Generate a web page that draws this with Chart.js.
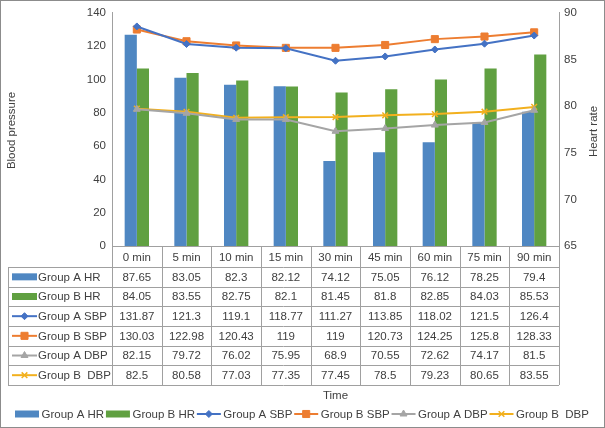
<!DOCTYPE html>
<html>
<head>
<meta charset="utf-8">
<script src="https://cdn.jsdelivr.net/npm/chart.js@4/dist/chart.umd.min.js"></script>
<style>
  body { margin: 0; background: #fff; }
  #wrap { width: 605px; height: 428px; }
</style>
</head>
<body>
<div id="wrap"><canvas id="chart" width="605" height="428"></canvas></div>
<script>
// Data
const categorias = ['0 min', '5 min', '10 min', '15 min', '30 min', '45 min', '60 min', '75 min', '90 min'];
const groupAHR = [87.65, 83.05, 82.3, 82.12, 74.12, 75.05, 76.12, 78.25, 79.4];
const groupBHR = [84.05, 83.55, 82.75, 82.1, 81.45, 81.8, 82.85, 84.03, 85.53];
const groupASBP = [131.87, 121.3, 119.1, 118.77, 111.27, 113.85, 118.02, 121.5, 126.4];
const groupBSBP = [130.03, 122.98, 120.43, 119, 119, 120.73, 124.25, 125.8, 128.33];
const groupADBP = [82.15, 79.72, 76.02, 75.95, 68.9, 70.55, 72.62, 74.17, 81.5];
const groupBDBP = [82.5, 80.58, 77.03, 77.35, 77.45, 78.5, 79.23, 80.65, 83.55];

// Styles
const FONT = '"Liberation Sans", Arial, sans-serif';
const TEXT_COLOR = '#404040';
const LINE_GRAY = '#a0a0a0';
const HEADER_H = 21;
const ROW_H = 19.67;

// Draws a legend key (bar swatch or line + marker)
function drawKey(ctx, ds, x0, y, w) {
    if (ds.type === 'bar') {
        ctx.fillStyle = ds.backgroundColor;
        ctx.fillRect(x0, y - 3.5, w, 7);
        return;
    }
    ctx.strokeStyle = ds.borderColor;
    ctx.lineWidth = 2;
    ctx.beginPath();
    ctx.moveTo(x0, y);
    ctx.lineTo(x0 + w, y);
    ctx.stroke();
    ctx.fillStyle = ds.pointBackgroundColor;
    ctx.strokeStyle = ds.pointBorderColor;
    ctx.lineWidth = ds.pointStyle === 'crossRot' ? 1.5 : 1;
    Chart.helpers.drawPoint(ctx, {
        pointStyle: ds.pointStyle,
        radius: ds.pointRadius,
        rotation: 0,
        borderWidth: ctx.lineWidth
    }, x0 + w / 2, y);
}

// Data table, axis titles, legend and frame
const tabelaPlugin = {
    id: 'tabela',
    afterDraw(chart) {
        const ctx = chart.ctx;
        const area = chart.chartArea;
        const xScale = chart.scales.x;
        const datasets = chart.data.datasets;
        const n = categorias.length;
        const step = (area.right - area.left) / n;
        const top = area.bottom;
        const tableLeft = 8;
        const tableBottom = top + HEADER_H + ROW_H * datasets.length;

        ctx.save();

        // table lines
        ctx.strokeStyle = LINE_GRAY;
        ctx.lineWidth = 1;
        ctx.beginPath();
        ctx.moveTo(area.left, Math.round(top) + 0.5);
        ctx.lineTo(area.right, Math.round(top) + 0.5);
        for (let r = 0; r <= datasets.length; r++) {
            const y = Math.round(top + HEADER_H + r * ROW_H) + 0.5;
            ctx.moveTo(tableLeft, y);
            ctx.lineTo(area.right, y);
        }
        for (let c = 0; c <= n; c++) {
            const x = Math.round(area.left + c * step) + 0.5;
            ctx.moveTo(x, top);
            ctx.lineTo(x, tableBottom);
        }
        ctx.moveTo(tableLeft + 0.5, top + HEADER_H);
        ctx.lineTo(tableLeft + 0.5, tableBottom);
        ctx.stroke();

        // header labels
        ctx.font = '11.5px ' + FONT;
        ctx.fillStyle = TEXT_COLOR;
        ctx.textAlign = 'center';
        ctx.textBaseline = 'middle';
        categorias.forEach((cat, i) => {
            ctx.fillText(cat, xScale.getPixelForValue(i), top + HEADER_H / 2 + 1);
        });

        // rows
        datasets.forEach((ds, r) => {
            const yMid = top + HEADER_H + r * ROW_H + ROW_H / 2;
            drawKey(ctx, ds, 12, yMid, 25);
            ctx.font = '11.5px ' + FONT;
            ctx.fillStyle = TEXT_COLOR;
            ctx.textAlign = 'left';
            ctx.fillText(ds.label, 38, yMid + 0.5);
            ctx.textAlign = 'center';
            ds.data.forEach((v, i) => {
                ctx.fillText(String(v), xScale.getPixelForValue(i), yMid + 0.5);
            });
        });

        // axis titles
        const midY = (area.top + area.bottom) / 2;
        ctx.textAlign = 'center';
        ctx.fillStyle = TEXT_COLOR;
        ctx.save();
        ctx.translate(12, midY + 1);
        ctx.rotate(-Math.PI / 2);
        ctx.fillText('Blood pressure', 0, 0);
        ctx.restore();
        ctx.save();
        ctx.translate(594, midY + 2);
        ctx.rotate(-Math.PI / 2);
        ctx.fillText('Heart rate', 0, 0);
        ctx.restore();
        ctx.fillText('Time', (area.left + area.right) / 2, 396);

        // bottom legend
        let lx = 15;
        const ly = 414;
        datasets.forEach(ds => {
            drawKey(ctx, ds, lx, ly, 24);
            lx += 26.5;
            ctx.font = '11.5px ' + FONT;
            ctx.fillStyle = TEXT_COLOR;
            ctx.textAlign = 'left';
            ctx.fillText(ds.label, lx, ly + 0.5);
            lx += ctx.measureText(ds.label).width + 1.8;
        });

        // outer frame
        ctx.strokeStyle = '#8c8c8c';
        ctx.lineWidth = 1;
        ctx.strokeRect(0.5, 0.5, chart.width - 1, chart.height - 1);

        ctx.restore();
    }
};

const ctx = document.getElementById('chart').getContext('2d');
const grafico = new Chart(ctx, {
    type: 'bar',
    data: {
        labels: categorias,
        datasets: [
            {
                type: 'bar',
                label: 'Group A HR',
                data: groupAHR,
                yAxisID: 'y1',
                backgroundColor: '#4f87c2',
                categoryPercentage: 0.49,
                barPercentage: 1,
                order: 2
            },
            {
                type: 'bar',
                label: 'Group B HR',
                data: groupBHR,
                yAxisID: 'y1',
                backgroundColor: '#60a041',
                categoryPercentage: 0.49,
                barPercentage: 1,
                order: 2
            },
            {
                type: 'line',
                label: 'Group A SBP',
                data: groupASBP,
                yAxisID: 'y',
                borderColor: '#4472c4',
                borderWidth: 2,
                pointStyle: 'rectRot',
                pointRadius: 3.5,
                pointBackgroundColor: '#4472c4',
                pointBorderColor: '#4472c4',
                pointBorderWidth: 1,
                tension: 0,
                order: 1
            },
            {
                type: 'line',
                label: 'Group B SBP',
                data: groupBSBP,
                yAxisID: 'y',
                borderColor: '#ed7d31',
                borderWidth: 2,
                pointStyle: 'rect',
                pointRadius: 5,
                pointBackgroundColor: '#ed7d31',
                pointBorderColor: '#ed7d31',
                pointBorderWidth: 1,
                tension: 0,
                order: 1
            },
            {
                type: 'line',
                label: 'Group A DBP',
                data: groupADBP,
                yAxisID: 'y',
                borderColor: '#a5a5a5',
                borderWidth: 2,
                pointStyle: 'triangle',
                pointRadius: 4,
                pointBackgroundColor: '#a5a5a5',
                pointBorderColor: '#a5a5a5',
                pointBorderWidth: 1,
                tension: 0,
                order: 1
            },
            {
                type: 'line',
                label: 'Group B  DBP',
                data: groupBDBP,
                yAxisID: 'y',
                borderColor: '#f2b01e',
                borderWidth: 2,
                pointStyle: 'crossRot',
                pointRadius: 4,
                pointBackgroundColor: '#f2b01e',
                pointBorderColor: '#f2b01e',
                pointBorderWidth: 1.5,
                tension: 0,
                order: 1
            }
        ]
    },
    options: {
        responsive: false,
        animation: false,
        devicePixelRatio: 1,
        layout: {
            padding: { top: 12, bottom: 182, left: 0, right: 0 }
        },
        scales: {
            x: {
                display: false,
                offset: true
            },
            y: {
                position: 'left',
                min: 0,
                max: 140,
                ticks: {
                    stepSize: 20,
                    padding: 6,
                    color: TEXT_COLOR,
                    font: { family: FONT, size: 11.5 }
                },
                grid: { display: false, drawTicks: false },
                border: { display: true, color: LINE_GRAY, width: 1 },
                afterFit: (scale) => { scale.width = 112; }
            },
            y1: {
                position: 'right',
                min: 65,
                max: 90,
                ticks: {
                    stepSize: 5,
                    padding: 5,
                    color: TEXT_COLOR,
                    font: { family: FONT, size: 11.5 }
                },
                grid: { display: false, drawTicks: false },
                border: { display: true, color: LINE_GRAY, width: 1 },
                afterFit: (scale) => { scale.width = 46; }
            }
        },
        plugins: {
            legend: { display: false },
            tooltip: { enabled: false }
        }
    },
    plugins: [tabelaPlugin]
});
</script>
</body>
</html>
